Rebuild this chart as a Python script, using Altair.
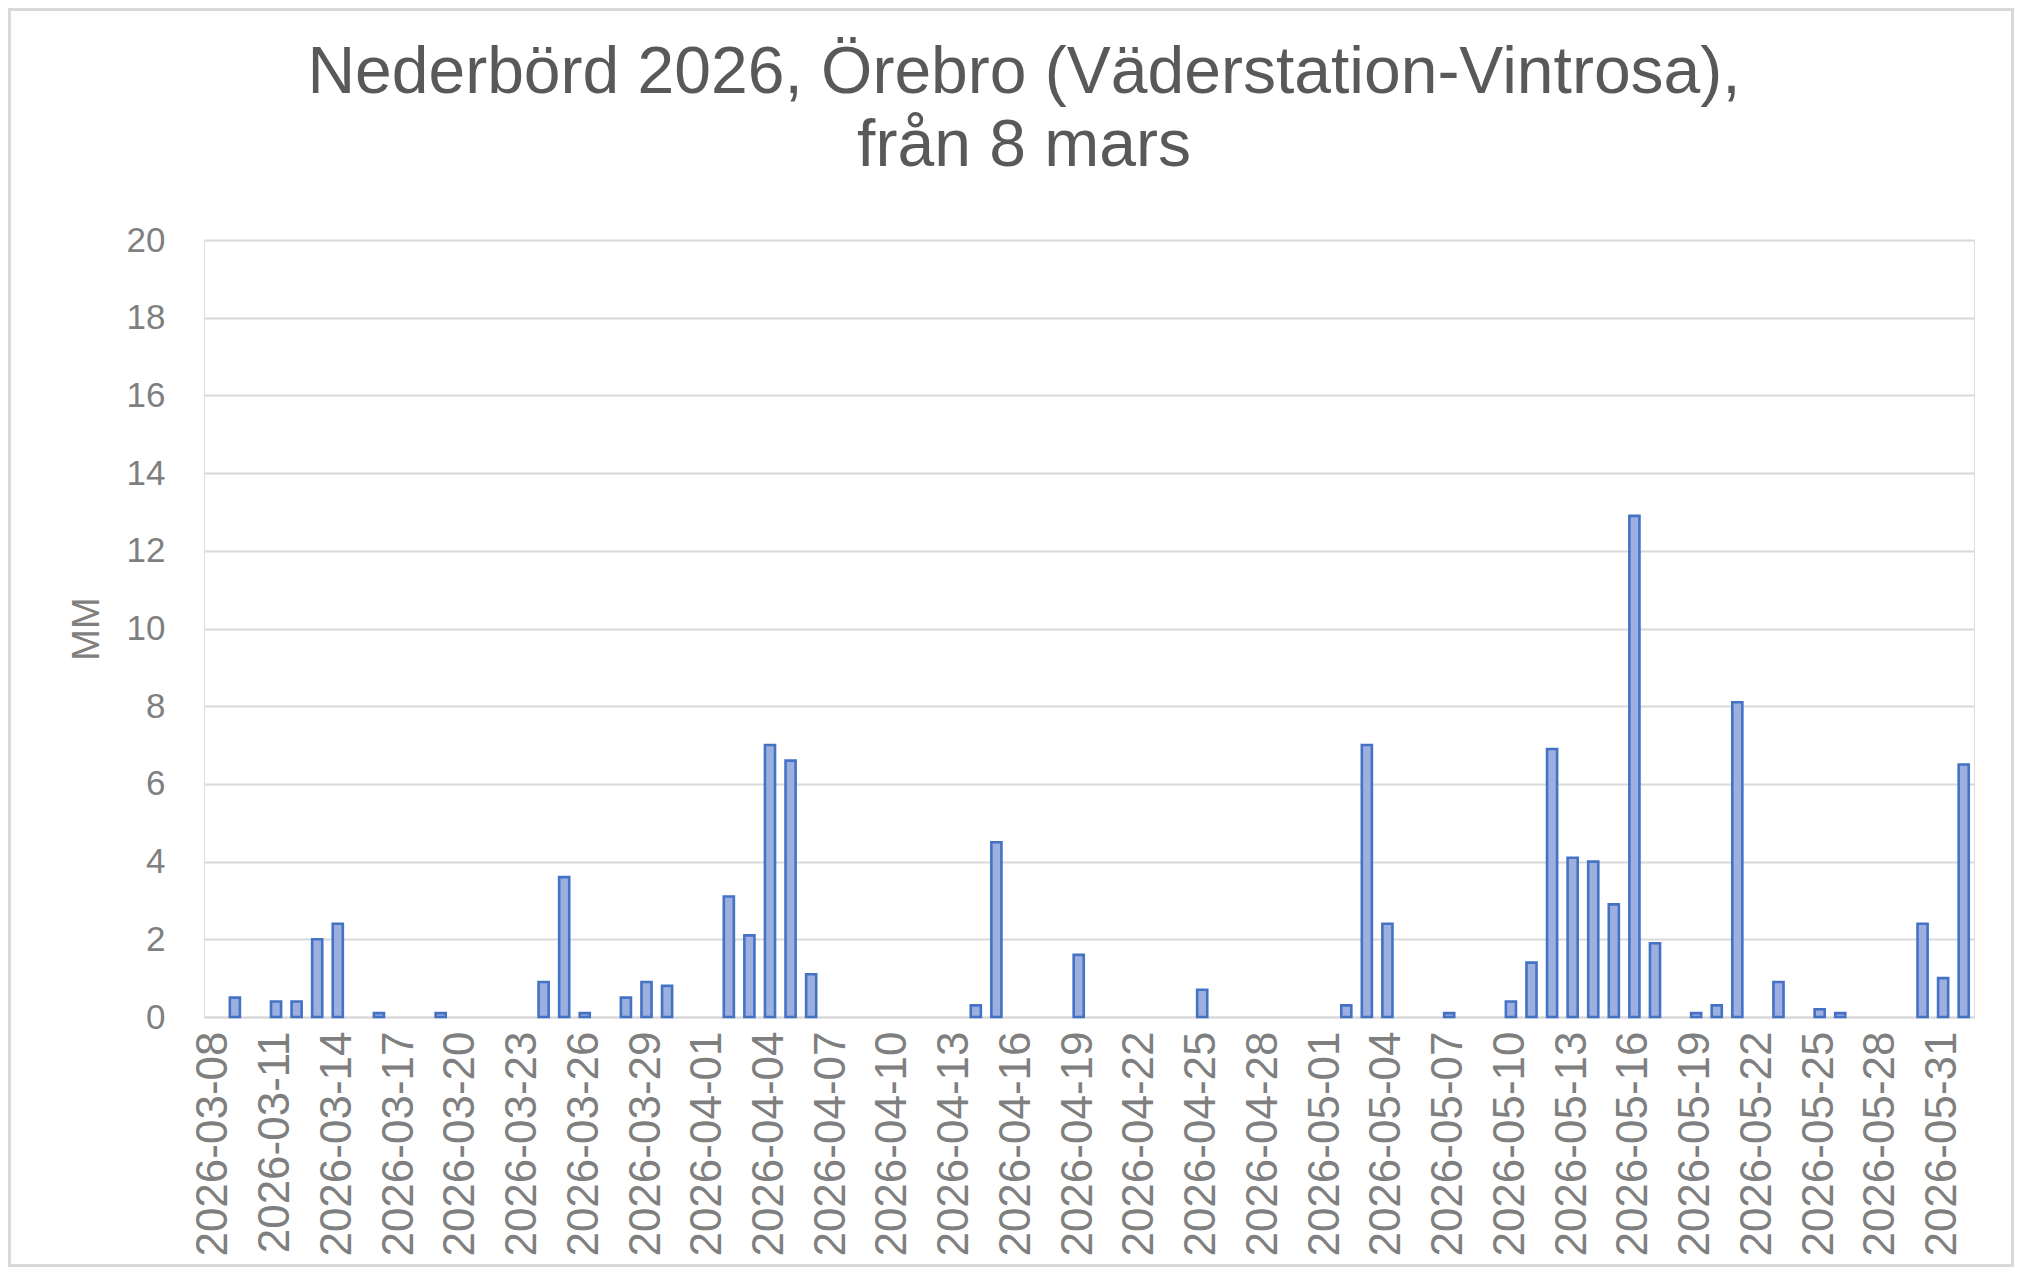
import altair as alt
import pandas as pd

# Daily precipitation (mm), 2026-03-08 .. 2026-06-01
dates = [d.strftime("%Y-%m-%d") for d in pd.date_range("2026-03-08", "2026-06-01", freq="D")]
mm = [
    0, 0.5, 0, 0.4, 0.4, 2.0, 2.4, 0, 0.1, 0,      # 03-08 .. 03-17
    0, 0.1, 0, 0, 0, 0, 0.9, 3.6, 0.1, 0,          # 03-18 .. 03-27
    0.5, 0.9, 0.8, 0, 0, 3.1, 2.1, 7.0, 6.6, 1.1,  # 03-28 .. 04-06
    0, 0, 0, 0, 0, 0, 0, 0.3, 4.5, 0,              # 04-07 .. 04-16
    0, 0, 1.6, 0, 0, 0, 0, 0, 0.7, 0,              # 04-17 .. 04-26
    0, 0, 0, 0, 0, 0.3, 7.0, 2.4, 0, 0,            # 04-27 .. 05-06
    0.1, 0, 0, 0.4, 1.4, 6.9, 4.1, 4.0, 2.9, 12.9, # 05-07 .. 05-16
    1.9, 0, 0.1, 0.3, 8.1, 0, 0.9, 0, 0.2, 0.1,    # 05-17 .. 05-26
    0, 0, 0, 2.4, 1.0, 6.5,                        # 05-27 .. 06-01
]
tick_labels = [
    "2026-03-08", "2026-03-11", "2026-03-14", "2026-03-17", "2026-03-20",
    "2026-03-23", "2026-03-26", "2026-03-29", "2026-04-01", "2026-04-04",
    "2026-04-07", "2026-04-10", "2026-04-13", "2026-04-16", "2026-04-19",
    "2026-04-22", "2026-04-25", "2026-04-28", "2026-05-01", "2026-05-04",
    "2026-05-07", "2026-05-10", "2026-05-13", "2026-05-16", "2026-05-19",
    "2026-05-22", "2026-05-25", "2026-05-28", "2026-05-31",
]
y_ticks = [0, 2, 4, 6, 8, 10, 12, 14, 16, 18, 20]
title_lines = ["Nederbörd 2026, Örebro (Väderstation-Vintrosa),", "från 8 mars"]

df = pd.DataFrame({"datum": dates, "mm": mm})

FONT = "Liberation Sans"
W, H = 1770, 777
PAD = {"left": 196, "top": 232, "right": 40, "bottom": 250}

bars = (
    alt.Chart(df)
    .transform_filter("datum.mm > 0")
    .mark_bar(fill="#9CAFDF", stroke="#4472C4", strokeWidth=2.6)
    .encode(
        x=alt.X(
            "datum:N",
            sort=dates,
            scale=alt.Scale(domain=dates, paddingInner=0.51, paddingOuter=0.255),
            axis=alt.Axis(
                title=None,
                values=tick_labels,
                labelAngle=270,
                labelAlign="right",
                labelBaseline="middle",
                labelFontSize=44,
                labelFont=FONT,
                labelColor="#7F7F7F",
                labelPadding=14,
                labelLimit=0,
                ticks=False,
                tickSize=0,
                domain=True,
                domainColor="#D9D9D9",
                domainWidth=2,
                grid=False,
                labelOverlap=False,
            ),
        ),
        y=alt.Y(
            "mm:Q",
            scale=alt.Scale(domain=[0, 20], nice=False),
            axis=alt.Axis(
                title="MM",
                values=y_ticks,
                labelFontSize=35,
                labelFont=FONT,
                labelColor="#7F7F7F",
                labelPadding=39,
                ticks=False,
                tickSize=0,
                domain=False,
                grid=True,
                gridColor="#D9D9D9",
                gridWidth=2,
                titleFont=FONT,
                titleFontSize=38,
                titleFontWeight="normal",
                titleColor="#7F7F7F",
                titlePadding=20,
            ),
        ),
    )
)

frame = (
    alt.Chart(pd.DataFrame({"f": [0]}))
    .mark_rect(fill=None, stroke="#D9D9D9", strokeWidth=3)
    .encode(
        x=alt.value(-194.5),
        x2=alt.value(W + PAD["right"] - 1.5),
        y=alt.value(-230.5),
        y2=alt.value(H + PAD["bottom"] - 1.5),
    )
)

chart = (
    alt.layer(bars, frame)
    .properties(
        width=W,
        height=H,
        padding=PAD,
        autosize=alt.AutoSizeParams(type="none"),
        title=alt.TitleParams(
            text=title_lines,
            font=FONT,
            fontSize=66,
            fontWeight="normal",
            color="#595959",
            lineHeight=73,
            anchor="middle",
            frame="group",
            dx=-65,
            offset=-172,
        ),
    )
    .configure_view(stroke=None)
    .configure(background="white")
)

chart.save("out.html", embed_options={"renderer": "svg", "actions": False})
